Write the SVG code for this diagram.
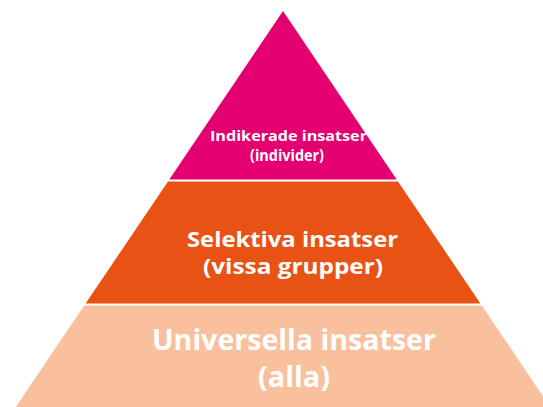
<svg xmlns="http://www.w3.org/2000/svg" width="543" height="407" viewBox="0 0 543 407">
  <style>
    .lbl { fill: #ffffff; font-family: "Open Sans", Lato, "Liberation Sans", sans-serif; font-weight: bold; text-anchor: middle; }
  </style>
  <rect x="0" y="0" width="543" height="407" fill="#ffffff"/>
  <g id="tier-top">
    <polygon points="283,11 396.7,179.5 169.3,179.5" fill="#E40070"/>
    <text class="lbl" x="288.5" y="141" font-size="15" textLength="157" lengthAdjust="spacingAndGlyphs">Indikerade insatser</text>
    <text class="lbl" x="287" y="161" font-size="15.5" textLength="74" lengthAdjust="spacingAndGlyphs">(individer)</text>
  </g>
  <g id="tier-middle">
    <polygon points="168,181.5 398,181.5 480.4,303.5 85.6,303.5" fill="#E85214"/>
    <text class="lbl" x="292.5" y="247" font-size="21" textLength="211" lengthAdjust="spacingAndGlyphs">Selektiva insatser</text>
    <text class="lbl" x="293" y="274" font-size="21" textLength="180" lengthAdjust="spacingAndGlyphs">(vissa grupper)</text>
  </g>
  <g id="tier-bottom">
    <polygon points="84.2,305.5 481.8,305.5 550.3,407 15.7,407" fill="#F9C09E"/>
    <text class="lbl" x="294" y="350" font-size="29" textLength="284" lengthAdjust="spacingAndGlyphs">Universella insatser</text>
    <text class="lbl" x="294" y="387" font-size="29" textLength="72" lengthAdjust="spacingAndGlyphs">(alla)</text>
  </g>
  <g id="connectors"/>
</svg>
